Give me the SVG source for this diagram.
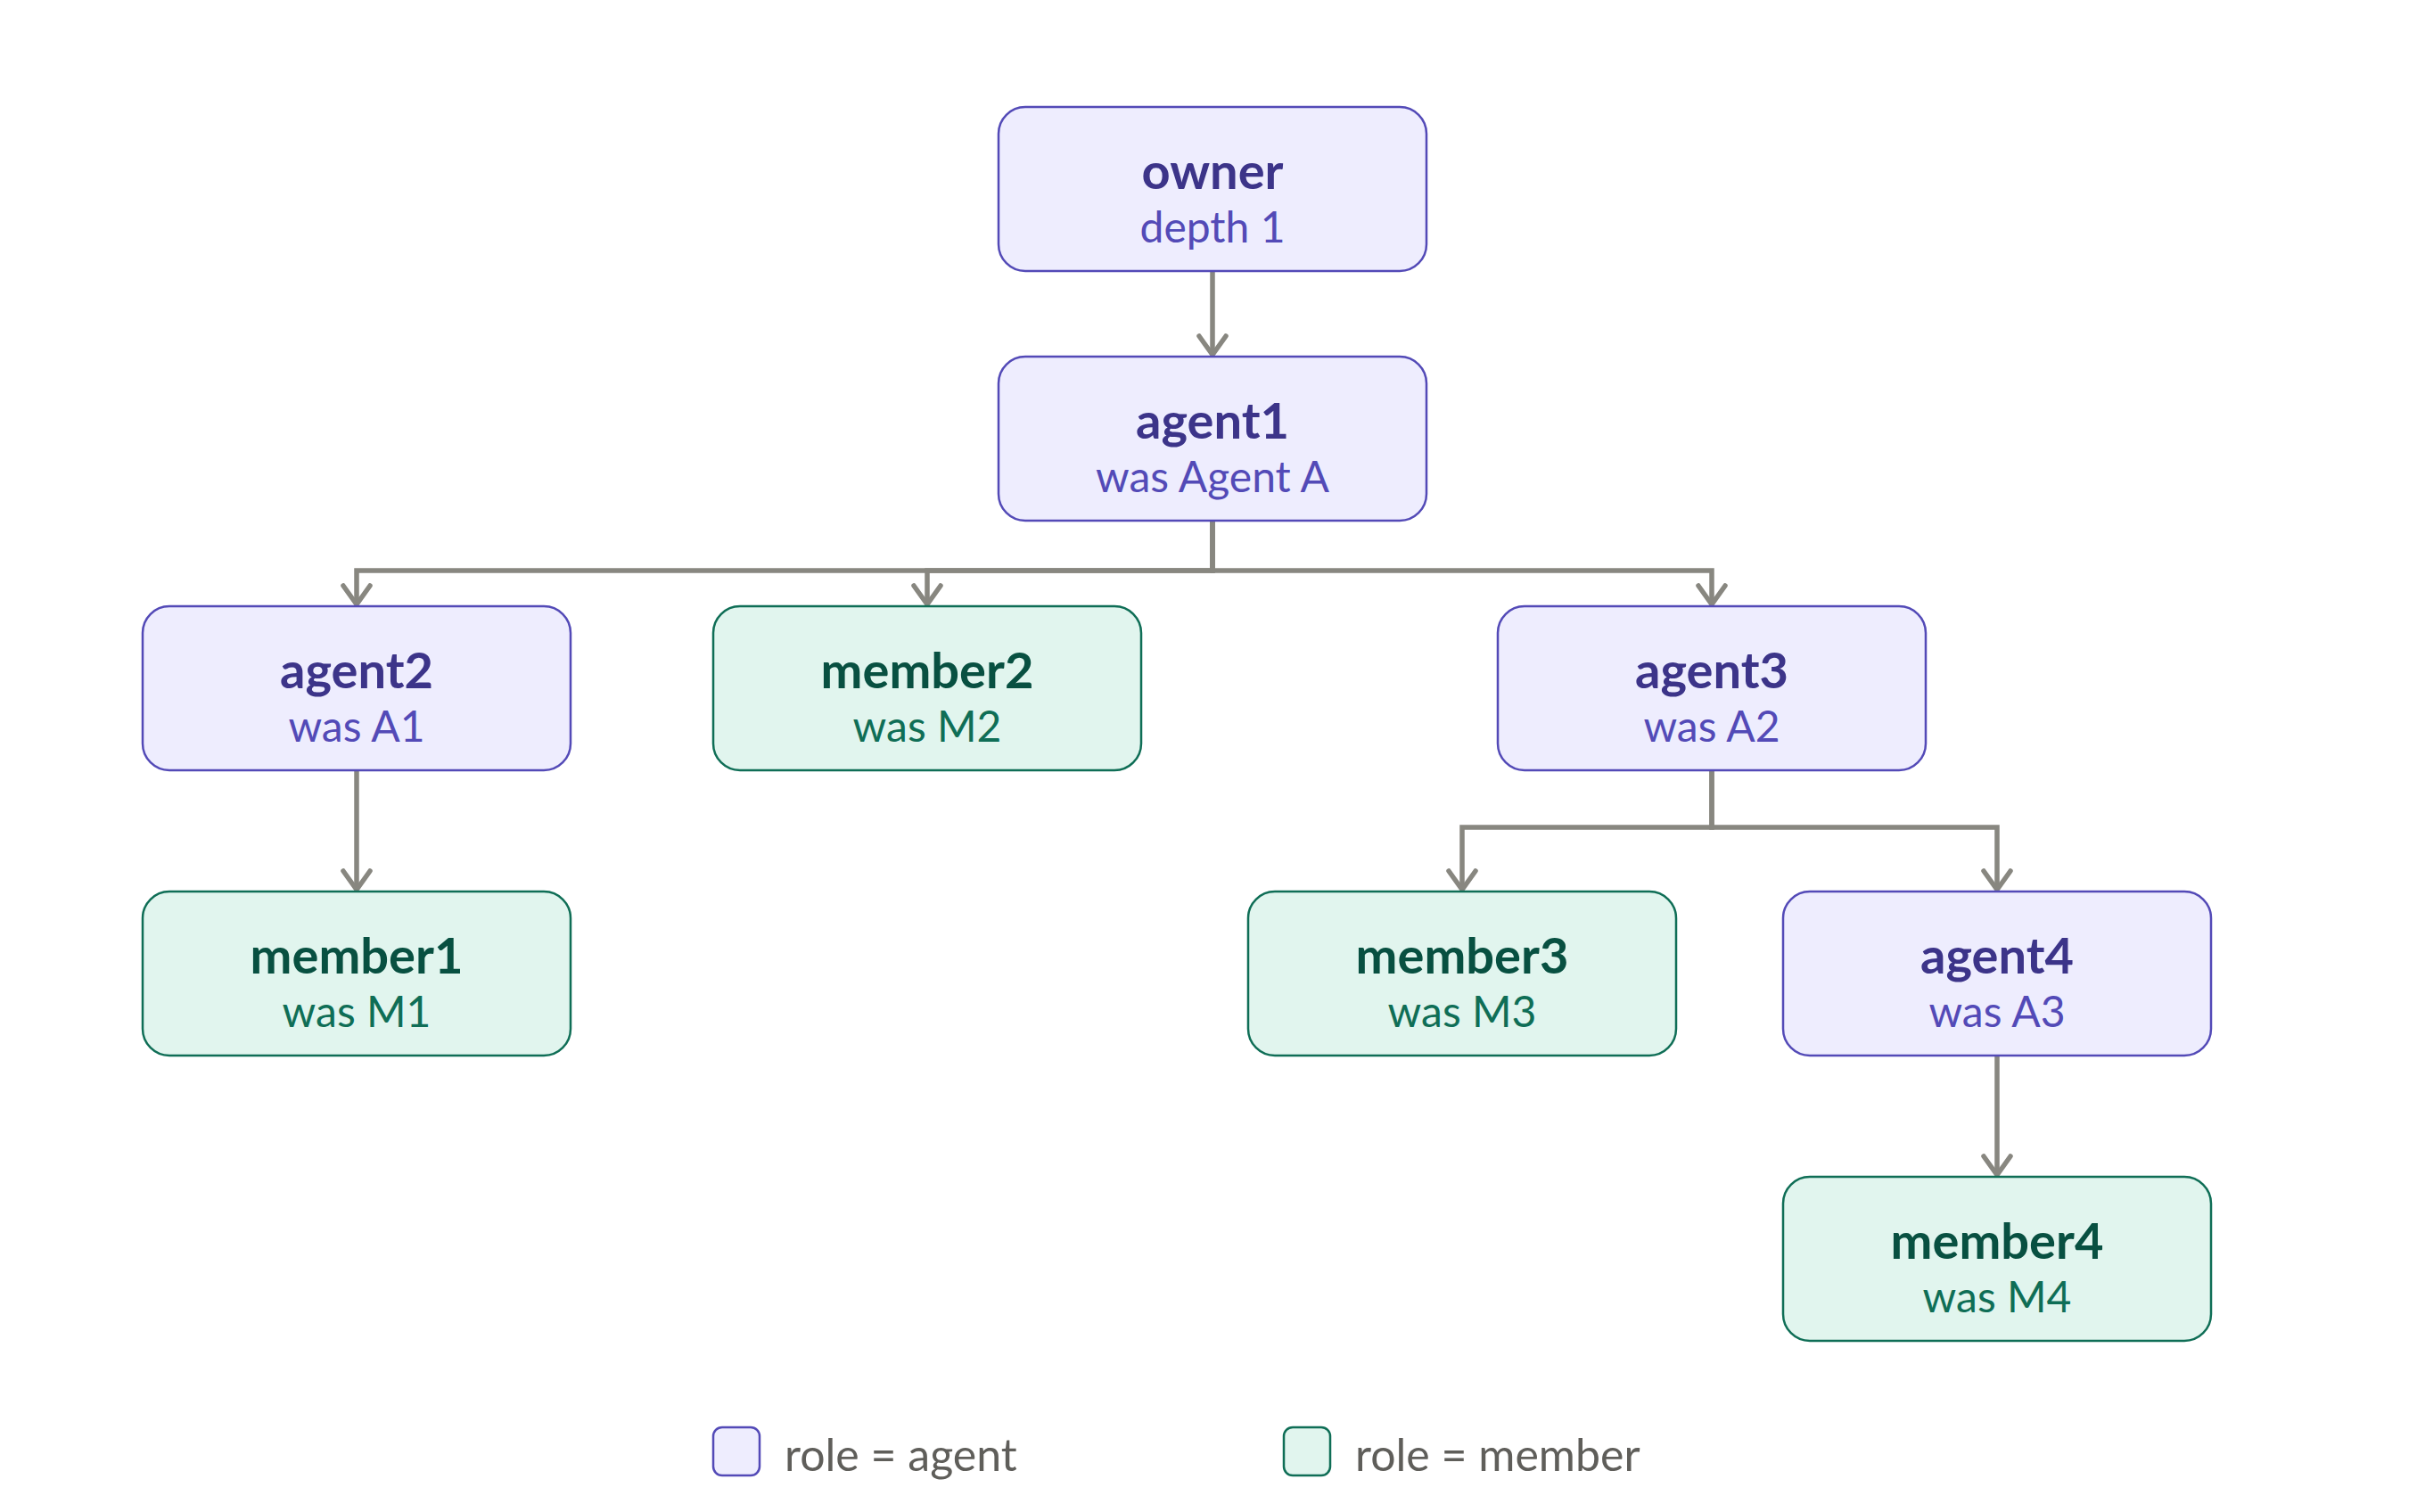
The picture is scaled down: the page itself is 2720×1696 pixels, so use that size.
<svg xmlns="http://www.w3.org/2000/svg" width="2720" height="1696" viewBox="0 0 2720 1696">
<style>
.agent rect{fill:#EEEDFE;stroke:#534AB7;stroke-width:2.5}
.member rect{fill:#E1F5EE;stroke:#0F6E56;stroke-width:2.5}
.t{font-family:Lato,"Open Sans","Liberation Sans",sans-serif;font-weight:700;font-size:56px;text-anchor:middle}
.s{font-family:Lato,"Open Sans","Liberation Sans",sans-serif;font-weight:400;font-size:48px;text-anchor:middle}
.agent .t{fill:#3C3489}.agent .s{fill:#534AB7}
.member .t{fill:#085041}.member .s{fill:#0F6E56}
.edge{fill:none;stroke:#888780;stroke-width:5.5;stroke-linejoin:miter;marker-end:url(#arr)}
.lg{font-family:Lato,"Open Sans","Liberation Sans",sans-serif;font-size:50px;fill:#5F5E5A}
</style>
<defs>
<marker id="arr" viewBox="-25 -20 30 40" markerWidth="30" markerHeight="40" refX="0" refY="0" orient="auto" markerUnits="userSpaceOnUse">
<path d="M-21,-15 L0,0 L-21,15" fill="none" stroke="#888780" stroke-width="5.5" stroke-linecap="round" stroke-linejoin="round"/>
</marker>
</defs>
<rect width="2720" height="1696" fill="#FFFFFF"/>
<g id="connectors">
<path class="edge" d="M1360,304 V398"/>
<path class="edge" d="M1360,584 V640 H400 V678"/>
<path class="edge" d="M1360,584 V640 H1040 V678"/>
<path class="edge" d="M1360,584 V640 H1920 V678"/>
<path class="edge" d="M400,864 V998"/>
<path class="edge" d="M1920,864 V928 H1640 V998"/>
<path class="edge" d="M1920,864 V928 H2240 V998"/>
<path class="edge" d="M2240,1184 V1318"/>
</g>
<g id="owner" class="agent"><rect x="1120" y="120" width="480" height="184" rx="30"/><text class="t" x="1360" y="212">owner</text><text class="s" x="1360" y="272">depth 1</text></g>
<g id="agent1" class="agent"><rect x="1120" y="400" width="480" height="184" rx="30"/><text class="t" x="1360" y="492">agent1</text><text class="s" x="1360" y="552">was Agent A</text></g>
<g id="agent2" class="agent"><rect x="160" y="680" width="480" height="184" rx="30"/><text class="t" x="400" y="772">agent2</text><text class="s" x="400" y="832">was A1</text></g>
<g id="member2" class="member"><rect x="800" y="680" width="480" height="184" rx="30"/><text class="t" x="1040" y="772">member2</text><text class="s" x="1040" y="832">was M2</text></g>
<g id="agent3" class="agent"><rect x="1680" y="680" width="480" height="184" rx="30"/><text class="t" x="1920" y="772">agent3</text><text class="s" x="1920" y="832">was A2</text></g>
<g id="member1" class="member"><rect x="160" y="1000" width="480" height="184" rx="30"/><text class="t" x="400" y="1092">member1</text><text class="s" x="400" y="1152">was M1</text></g>
<g id="member3" class="member"><rect x="1400" y="1000" width="480" height="184" rx="30"/><text class="t" x="1640" y="1092">member3</text><text class="s" x="1640" y="1152">was M3</text></g>
<g id="agent4" class="agent"><rect x="2000" y="1000" width="480" height="184" rx="30"/><text class="t" x="2240" y="1092">agent4</text><text class="s" x="2240" y="1152">was A3</text></g>
<g id="member4" class="member"><rect x="2000" y="1320" width="480" height="184" rx="30"/><text class="t" x="2240" y="1412">member4</text><text class="s" x="2240" y="1472">was M4</text></g>
<g id="legend">
<g class="agent"><rect x="800" y="1601" width="52" height="54" rx="10"/></g>
<text class="lg" x="880" y="1650">role = agent</text>
<g class="member"><rect x="1440" y="1601" width="52" height="54" rx="10"/></g>
<text class="lg" x="1520" y="1650">role = member</text>
</g>
</svg>
